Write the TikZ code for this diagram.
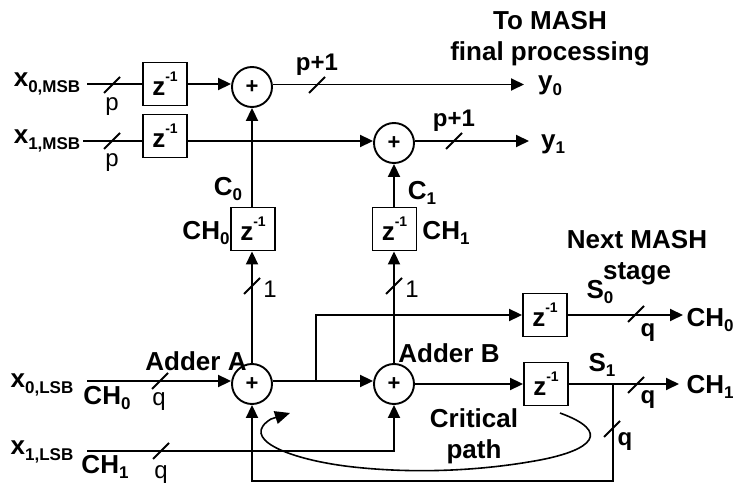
\documentclass[tikz,border=0pt]{standalone}
\usepackage{fontspec}
\setmainfont{Liberation Sans}
\usepackage{xcolor}
\usetikzlibrary{arrows.meta,calc}
\newcommand{\lowtxt}[1]{\raisebox{-.22em}{\fontsize{17}{17}\selectfont #1}}
\newcommand{\zinv}{z\raisebox{.55em}{\fontsize{14}{14}\selectfont -1}}
\begin{document}
\begin{tikzpicture}[
  x=1pt, y=-1pt,
  every node/.style={inner sep=0pt, font=\fontsize{26}{31}\selectfont\bfseries, align=center},
  delaybox/.style={draw, line width=1.9pt, minimum width=44pt, minimum height=43pt, font=\fontsize{26}{26}\selectfont\bfseries},
  adder/.style={draw, circle, line width=1.9pt, minimum size=40pt, font=\fontsize{22}{22}\selectfont\bfseries},
  sig/.style={line width=1.9pt, -{Triangle[length=13pt,width=12pt]}},
  wire/.style={line width=1.9pt},
  plainlbl/.style={font=\fontsize{24}{24}\selectfont},
  boldlbl/.style={font=\fontsize{24}{24}\selectfont\bfseries},
  ]
  \useasboundingbox (0,0) rectangle (737,489);
  % adders
  \node[adder] (a0) at (252,87)  {+};
  \node[adder] (a1) at (394,143) {+};
  \node[adder] (aA) at (252,384) {+};
  \node[adder] (aB) at (394,384) {+};
  % delays
  \node[delaybox] (z0) at (165,84)    {\zinv};
  \node[delaybox] (z1) at (165,136)   {\zinv};
  \node[delaybox] (z2) at (253,229)   {\zinv};
  \node[delaybox] (z3) at (394.5,229) {\zinv};
  \node[delaybox] (z4) at (545,315)   {\zinv};
  \node[delaybox] (z5) at (546,384)   {\zinv};
  % labels
  \node (x0m) at (47,84)  {x\lowtxt{0,MSB}};
  \node (x1m) at (47,141) {x\lowtxt{1,MSB}};
  \node (x0l) at (42,385) {x\lowtxt{0,LSB}};
  \node (x1l) at (42,452) {x\lowtxt{1,LSB}};
  \node (ch0l) at (107,398) {CH\lowtxt{0}};
  \node (ch1l) at (105,467) {CH\lowtxt{1}};
  \node (ch0z) at (206,233) {CH\lowtxt{0}};
  \node (ch1z) at (446,233) {CH\lowtxt{1}};
  \node (c0) at (228,189) {C\lowtxt{0}};
  \node (c1) at (422,193) {C\lowtxt{1}};
  \node (y0) at (550,86)  {y\lowtxt{0}};
  \node (y1) at (553,144) {y\lowtxt{1}};
  \node (s0) at (600,292) {S\lowtxt{0}};
  \node (s1) at (602,365) {S\lowtxt{1}};
  \node (ch0o) at (710,320) {CH\lowtxt{0}};
  \node (ch1o) at (710,387) {CH\lowtxt{1}};
  \node (toM) at (550,39)   {To MASH\\final processing};
  \node (nxt) at (637,258)  {Next MASH\\stage};
  \node (addA) at (196,361) {Adder A};
  \node (addB) at (449,353) {Adder B};
  \node (crit) at (474,436) {Critical\\path};
  \node[boldlbl] (p1a) at (317,65)  {p+1};
  \node[boldlbl] (p1b) at (454,121) {p+1};
  \node[plainlbl] (pa) at (112,107) {p};
  \node[plainlbl] (pb) at (112,163) {p};
  \node[plainlbl] (qa) at (159,402) {q};
  \node[plainlbl] (qb) at (161,475) {q};
  \node[plainlbl] (oa) at (270,289) {1};
  \node[plainlbl] (ob) at (412,289) {1};
  \node[boldlbl] (qc) at (648,333) {q};
  \node[boldlbl] (qd) at (648,400) {q};
  \node[boldlbl] (qe) at (625,442) {q};
  % free ends and branches
  \coordinate (in0) at (87,84);
  \coordinate (in1) at (83,141);
  \coordinate (in2) at (87,381);
  \coordinate (in3) at (87,451);
  \coordinate (out0) at (524,84.5);
  \coordinate (out1) at (529,141);
  \coordinate (out2) at (683,315);
  \coordinate (out3) at (679,384);
  \coordinate (brA) at (316,381);
  \coordinate (brB) at (613,384);
  \coordinate (fbk) at (613,481);
  % connectors
  \draw[wire] (in0) -- (z0.west);
  \draw[wire] (in1) -- (z1.west |- in1);
  \draw[sig] (z0.east) -- (a0.west |- z0.east);
  \draw[sig] (z1.east |- out1) -- (a1.west |- out1);
  \draw[sig] (a0.east |- out0) -- (out0);
  \draw[sig] (a1.east |- out1) -- (out1);
  \draw[sig] (a0.south |- z2.north) -- (a0.south);
  \draw[sig] (a1.south |- z3.north) -- (a1.south);
  \draw[sig] (aA.north) -- (aA.north |- z2.south);
  \draw[sig] (aB.north) -- (aB.north |- z3.south);
  \draw[sig] (in2) -- (aA.west |- in2);
  \draw[sig] (aA.east |- brA) -- (aB.west |- brA);
  \draw[sig] (brA) |- (z4.west);
  \draw[sig] (aB.east) -- (z5.west);
  \draw[sig] (z4.east) -- (out2);
  \draw[sig] (z5.east) -- (out3);
  \draw[sig] (in3) -| (aB.south);
  \draw[sig] (brB) -- (fbk) -| (aA.south);
  % critical path
  \draw[line width=1.6pt, -{Triangle[length=15pt,width=13pt]}]
    (560,413) .. controls (612,432) and (592,450) .. (540,460)
    .. controls (470,473) and (400,473) .. (345,466)
    .. controls (285,458) and (240,438) .. (271,419) -- (290,413);
  % width marks
  \foreach \x/\y in {112/85, 112/141, 317/85, 454/141, 252/286, 394/286, 160/381, 161/451, 636/314, 636/385, 612/429}
    \draw[wire] (\x-8,\y+8) -- (\x+8,\y-8);
\end{tikzpicture}
\end{document}
